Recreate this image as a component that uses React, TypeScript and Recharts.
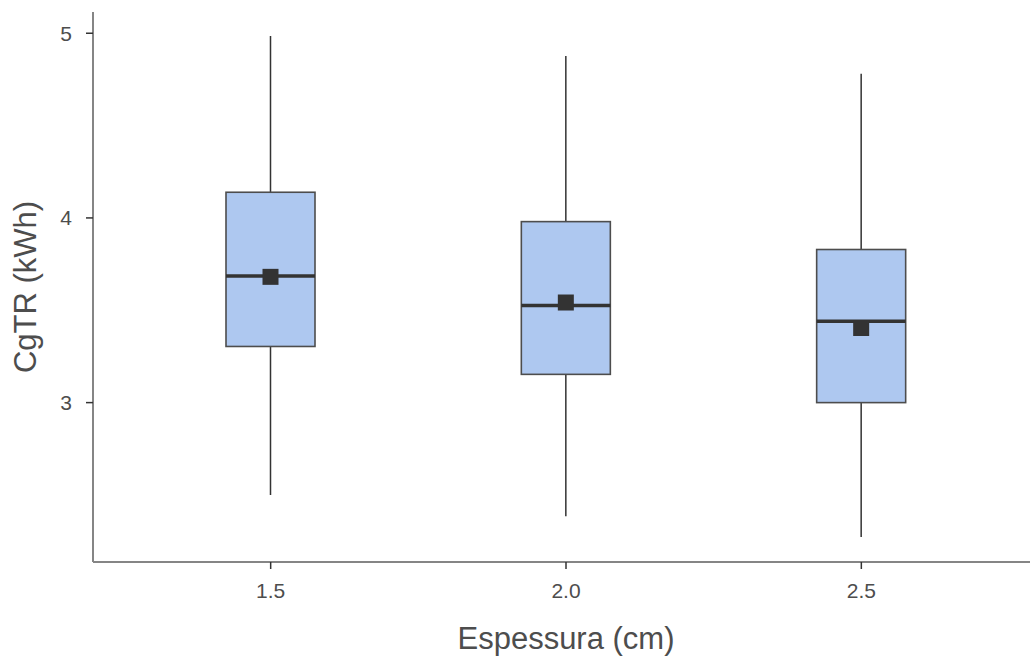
import { ComposedChart, Bar, XAxis, YAxis, Label } from 'recharts';

const espessura = ['1.5', '2.0', '2.5'];
const whiskerLow = [2.5, 2.385, 2.272];
const quartil1 = [3.304, 3.153, 3.0];
const mediana = [3.686, 3.526, 3.44];
const quartil3 = [4.139, 3.98, 3.829];
const whiskerHigh = [4.985, 4.877, 4.78];
const media = [3.681, 3.542, 3.404];
const yTicks = [3, 4, 5];

const data = espessura.map((e, i) => ({
  espessura: e,
  low: whiskerLow[i],
  q1: quartil1[i],
  median: mediana[i],
  q3: quartil3[i],
  high: whiskerHigh[i],
  mean: media[i],
}));

const colors = {
  box: '#aec8f0',
  boxLine: '#4d4d4d',
  dark: '#333333',
  axis: '#858585',
  text: '#4d4d4d',
} as const;

const font = '"Liberation Sans", Arial, sans-serif';

const BoxShape = (props: any) => {
  const { x, y, width, height, payload } = props;
  const top = height < 0 ? y + height : y;
  const h = Math.abs(height);
  const k = h / (payload.high - payload.low);
  const py = (v: number) => top + (payload.high - v) * k;
  const cx = x + width / 2;
  const sq = 16;
  return (
    <g>
      <line x1={cx} x2={cx} y1={py(payload.high)} y2={py(payload.low)} stroke={colors.dark} strokeWidth={1.5} />
      <rect
        x={x}
        y={py(payload.q3)}
        width={width}
        height={py(payload.q1) - py(payload.q3)}
        fill={colors.box}
        stroke={colors.boxLine}
        strokeWidth={1.6}
      />
      <line x1={x} x2={x + width} y1={py(payload.median)} y2={py(payload.median)} stroke={colors.dark} strokeWidth={3.5} />
      <rect x={cx - sq / 2} y={py(payload.mean) - sq / 2} width={sq} height={sq} fill={colors.dark} />
    </g>
  );
};

const XTitle = (props: any) => {
  const { x, y, width, height } = props.viewBox;
  return (
    <text x={x + width / 2} y={y + height - 8} textAnchor="middle" fontSize={31} fill={colors.text} fontFamily={font}>
      Espessura (cm)
    </text>
  );
};

const YTitle = (props: any) => {
  const { y, height } = props.viewBox;
  const cy = y + height / 2;
  return (
    <text
      x={36}
      y={cy}
      transform={`rotate(-90, 36, ${cy})`}
      textAnchor="middle"
      fontSize={31}
      fill={colors.text}
      fontFamily={font}
    >
      CgTR (kWh)
    </text>
  );
};

export default function App() {
  return (
    <div style={{ position: 'absolute', left: 0, top: 0, width: 1030, height: 657, overflow: 'hidden', background: '#fff' }}>
      <ComposedChart width={1040} height={657} data={data} margin={{ top: 12, right: 1, left: 0, bottom: 0 }}>
        <XAxis
          dataKey="espessura"
          type="category"
          padding={{ left: 30, right: 30 }}
          height={95}
          tickSize={7}
          tickMargin={14}
          axisLine={{ stroke: colors.axis, strokeWidth: 2 }}
          tickLine={{ stroke: colors.dark, strokeWidth: 1.5 }}
          tick={{ fontSize: 21, fill: colors.text, fontFamily: font }}
        >
          <Label content={XTitle} />
        </XAxis>
        <YAxis
          type="number"
          domain={[2.137, 5.115]}
          allowDataOverflow
          ticks={yTicks}
          width={93}
          tickSize={7}
          tickMargin={14}
          axisLine={{ stroke: colors.axis, strokeWidth: 2 }}
          tickLine={{ stroke: colors.dark, strokeWidth: 1.5 }}
          tick={{ fontSize: 21, fill: colors.text, fontFamily: font }}
        >
          <Label content={YTitle} />
        </YAxis>
        <Bar
          dataKey={(d: any) => [d.low, d.high]}
          barSize={89}
          shape={BoxShape}
          isAnimationActive={false}
        />
      </ComposedChart>
    </div>
  );
}
